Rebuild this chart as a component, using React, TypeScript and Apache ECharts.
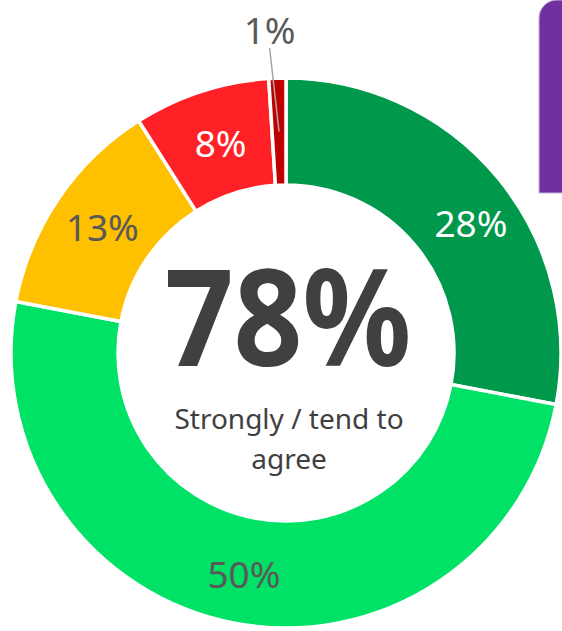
import React, { useEffect, useRef } from "react";
import * as echarts from "echarts";

const categories = ["Strongly agree", "Tend to agree", "Neither", "Tend to disagree", "Strongly disagree"];
const values = [28, 50, 13, 8, 1];
const labels = ["28%", "50%", "13%", "8%", "1%"];
const sliceColors = ["#00984A", "#00E266", "#FFC000", "#FF2126", "#C00000"];
const labelColors = ["#FFFFFF", "#595959", "#595959", "#FFFFFF", "#595959"];
const headline = "78%";
const subline = "Strongly / tend to\nagree";

const CX = 286;
const CY = 353;
const R_IN = 168;
const R_OUT = 275;
const FONT = "'Noto Sans', 'Open Sans', sans-serif";
const LABEL_OFFSETS: number[][] = [[12, 13], [0, 0], [2, 0], [4, 3], [0, 0]];

export default function App() {
  const ref = useRef<HTMLDivElement>(null);
  useEffect(() => {
    if (!ref.current) return;
    const chart = echarts.init(ref.current, undefined, { renderer: "svg" });
    const outsideIdx = 4;
    const rMid = (R_IN + R_OUT) / 2;
    chart.setOption({
      animation: false,
      graphic: [
        {
          type: "rect",
          shape: { x: 539, y: 0, width: 40, height: 193, r: [18, 0, 0, 0] },
          style: { fill: "#7030A0", stroke: "#C9B3DD", lineWidth: 1 },
        },
        {
          type: "text",
          x: CX + 2,
          y: 314,
          scaleX: 0.9,
          style: {
            text: headline,
            font: `bold 134px ${FONT}`,
            fill: "#404040",
            align: "center",
            verticalAlign: "middle",
          },
        },
        {
          type: "text",
          x: CX + 3,
          y: 438,
          style: {
            text: subline,
            font: `28px ${FONT}`,
            fill: "#404040",
            align: "center",
            verticalAlign: "middle",
            lineHeight: 40,
          },
        },
      ],
      series: [
        {
          type: "pie",
          center: [CX, CY],
          radius: [R_IN, R_OUT],
          startAngle: 90,
          clockwise: true,
          avoidLabelOverlap: false,
          itemStyle: { borderColor: "#FFFFFF", borderWidth: 3.5 },
          label: {
            show: true,
            position: "inside",
            fontFamily: FONT,
            fontSize: 37,
            formatter: (p: any) => labels[p.dataIndex],
          },
          labelLine: { show: false },
          emphasis: { disabled: true },
          data: values.map((v, i) => ({
            name: categories[i],
            value: v,
            itemStyle: { color: sliceColors[i] },
            label:
              i === outsideIdx
                ? { show: false }
                : { color: labelColors[i], offset: LABEL_OFFSETS[i] },
          })),
        },
        {
          type: "pie",
          center: [CX, CY],
          radius: [0, rMid],
          startAngle: 90,
          clockwise: true,
          avoidLabelOverlap: false,
          silent: true,
          z: 5,
          itemStyle: { color: "rgba(0,0,0,0)", borderWidth: 0 },
          emphasis: { disabled: true },
          label: {
            show: true,
            position: "outside",
            fontFamily: FONT,
            fontSize: 37,
            color: "#595959",
            formatter: (p: any) => labels[p.dataIndex],
          },
          labelLine: {
            show: true,
            length: R_OUT + 24 - rMid,
            length2: 0,
            smooth: false,
            lineStyle: { color: "#A6A6A6", width: 1.5 },
          },
          labelLayout: (params: any) => {
            if (params.dataIndex !== outsideIdx) return {};
            const pts = params.labelLinePoints;
            if (!pts || !pts.length) return {};
            const end = pts[pts.length - 1];
            return {
              x: end[0] - 7,
              y: end[1] - 6,
              align: "center",
              verticalAlign: "bottom",
            };
          },
          data: values.map((v, i) => ({
            name: categories[i],
            value: v,
            label: { show: i === outsideIdx },
            labelLine: { show: i === outsideIdx },
          })),
        },
      ],
    });
    return () => chart.dispose();
  }, []);
  return (
    <div
      ref={ref}
      style={{ position: "fixed", left: 0, top: 0, width: 562, height: 631, background: "#FFFFFF" }}
    />
  );
}
